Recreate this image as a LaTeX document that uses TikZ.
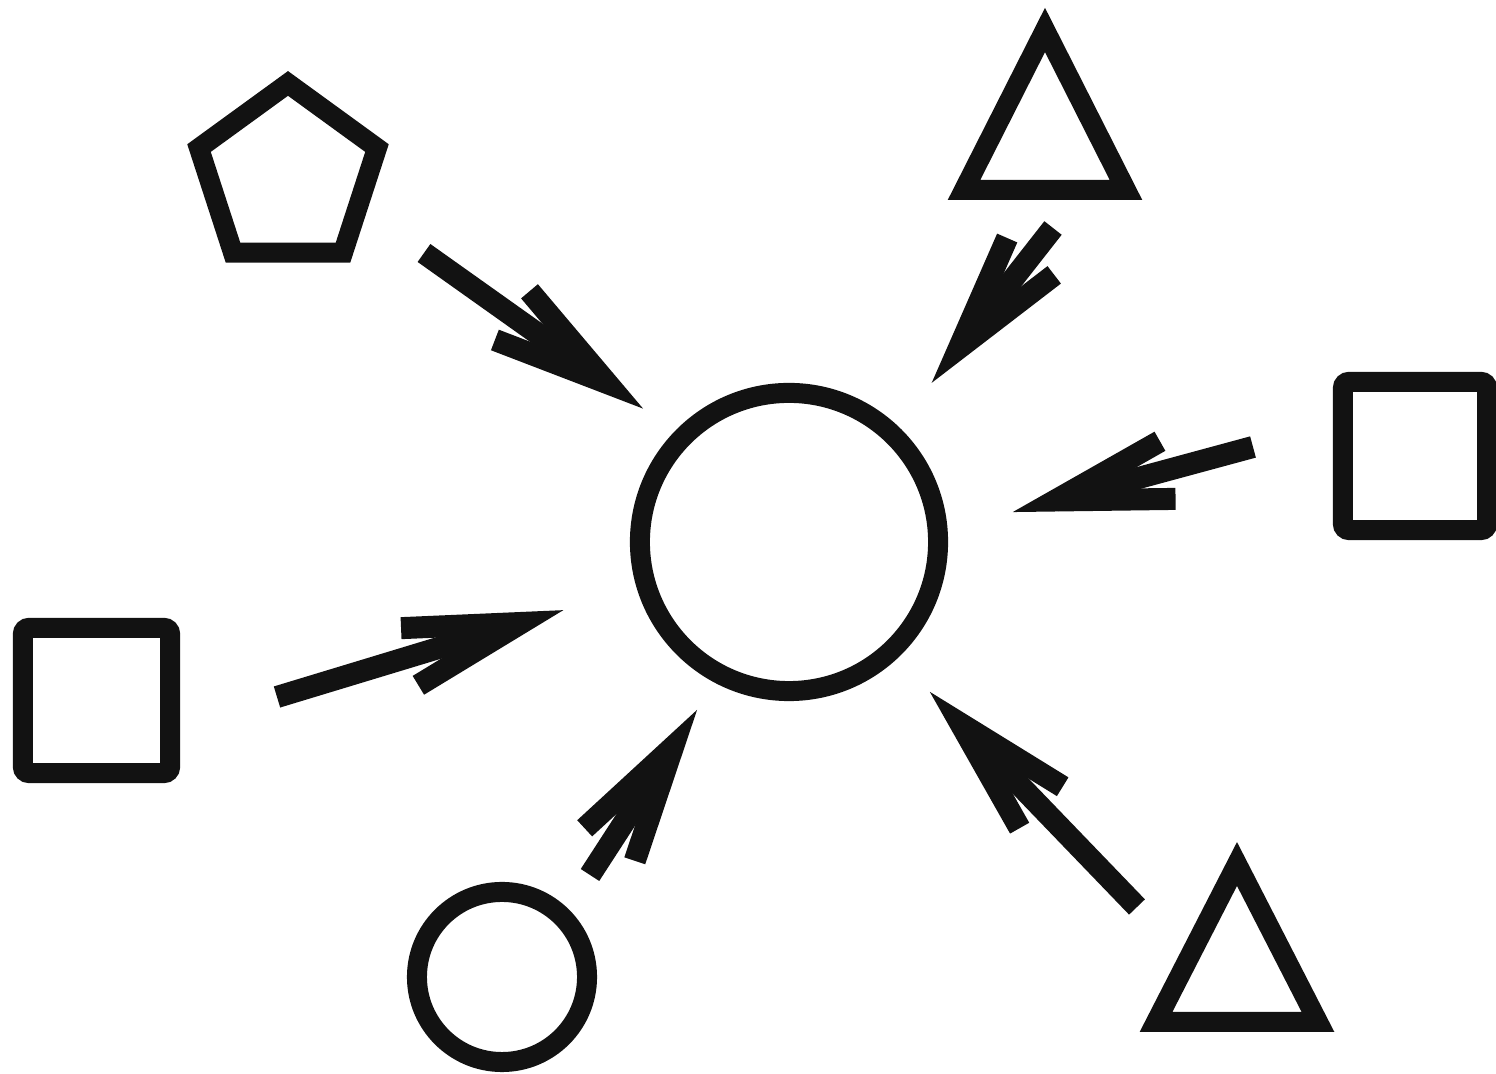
\documentclass[tikz,border=0pt]{standalone}
\usetikzlibrary{shapes.geometric,calc}
\begin{document}
\begin{tikzpicture}[x=0.01cm,y=-0.01cm,
  shapeline/.style={draw=black!93, line width=0.2cm, line join=miter},
  shaft/.style={draw=black!93, line width=0.22cm, line cap=butt},
  barbs/.style={draw=black!93, line width=0.22cm, line cap=butt, line join=miter, miter limit=10}]
\useasboundingbox (0,0) rectangle (1496,1074);
% shapes
\node[shapeline, circle, inner sep=0pt, minimum size=2.98cm] (hub) at (789,542) {};
\node[shapeline, circle, inner sep=0pt, minimum size=1.70cm] (smallc) at (502,977) {};
\node[shapeline, regular polygon, regular polygon sides=5, inner sep=0pt, minimum size=1.87cm] (penta) at (288,177) {};
\node[shapeline, rectangle, rounded corners=0.06cm, inner sep=0pt, minimum width=1.44cm, minimum height=1.48cm] (sqr) at (1415,456) {};
\node[shapeline, rectangle, rounded corners=0.06cm, inner sep=0pt, minimum width=1.47cm, minimum height=1.45cm] (sql) at (96.5,700.5) {};
\coordinate (tt1) at (1045,30);
\coordinate (tt2) at (1126,190);
\coordinate (tt3) at (964,190);
\draw[shapeline] (tt1) -- (tt2) -- (tt3) -- cycle;
\coordinate (bt1) at (1237,864);
\coordinate (bt2) at (1318,1022);
\coordinate (bt3) at (1156,1022);
\draw[shapeline] (bt1) -- (bt2) -- (bt3) -- cycle;
% arrow coordinates: start and head vertex
\coordinate (a1s) at (424,253);  \coordinate (a1v) at (607,383);
\coordinate (a2s) at (1053,228); \coordinate (a2v) at (959,348);
\coordinate (a3s) at (1253,447); \coordinate (a3v) at (1055.5,500.5);
\coordinate (a4s) at (277,697);  \coordinate (a4v) at (521,623);
\coordinate (a5s) at (590,875);  \coordinate (a5v) at (673,747);
\coordinate (a6s) at (1137,907); \coordinate (a6v) at (960.5,723.7);
\foreach \i in {1,...,6}{
  \coordinate (a\i l) at ($(a\i v)!1.2cm!14.4:(a\i s)$);
  \coordinate (a\i r) at ($(a\i v)!1.2cm!-14.4:(a\i s)$);
  \draw[shaft] (a\i s) -- (a\i v);
  \draw[barbs] (a\i l) -- (a\i v) -- (a\i r);
}
\end{tikzpicture}
\end{document}
